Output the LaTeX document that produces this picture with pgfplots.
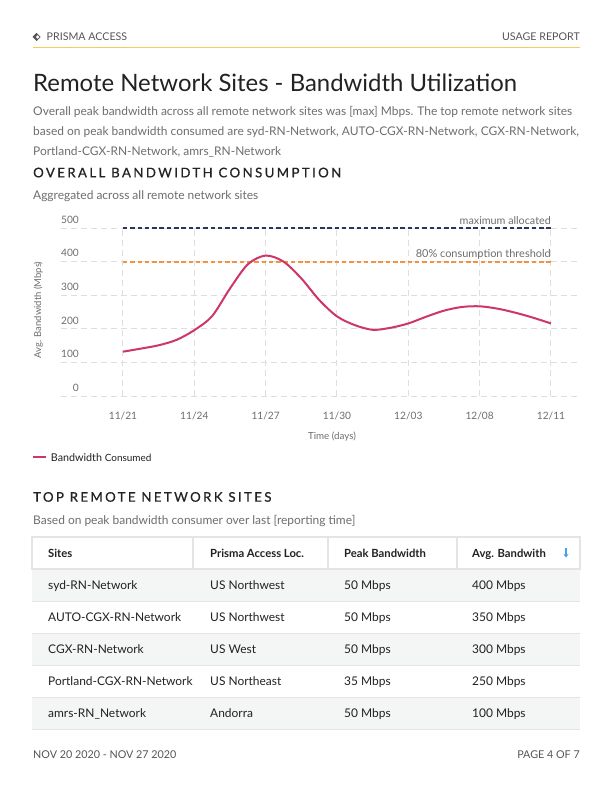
\documentclass[border=0pt]{standalone}
\usepackage{fontspec}
\setmainfont{Lato}
\newfontfamily\spacedfont[LetterSpace=18, FakeBold=0.6]{Lato}
\usepackage{pgfplots}
\pgfplotsset{compat=1.18}
\usetikzlibrary{arrows.meta}
\definecolor{pinkc}{HTML}{CD3767}
\definecolor{orangec}{HTML}{F5923E}
\definecolor{navyc}{HTML}{2D3459}
\definecolor{gridc}{HTML}{DEDEDE}
\definecolor{txtdark}{HTML}{222222}
\definecolor{txtmid}{HTML}{555555}
\definecolor{txtgray}{HTML}{6E6E6E}
\definecolor{rowgray}{HTML}{F4F5F5}
\definecolor{bordc}{HTML}{E4E4E4}
\definecolor{yellowc}{HTML}{F2CC5C}
\definecolor{bluec}{HTML}{4A9FE8}
\newcommand{\fs}[1]{\fontsize{#1}{#1}\selectfont}

\pgfplotstableread{
x y
0 132
0.25 141
0.5 151
0.75 167
1 196
1.25 238
1.5 320
1.75 392
2 418
2.25 400
2.5 350
2.75 286
3 237
3.25 211
3.5 197
3.75 203
4 216
4.25 236
4.5 254
4.75 265
5 267
5.25 260
5.5 248
5.75 233
6 216
}\bwdata

\begin{document}
\begin{tikzpicture}
\begin{scope}[x=1bp,y=-1bp]
\fill[white] (0,0) rectangle (612,792);
% header
\fill[txtmid] (36.5,33) -- (40.5,37) -- (36.5,41) -- (32.5,37) -- cycle;
\fill[white] (37.6,35.2) -- (39.4,37) -- (37.6,38.8) -- (35.8,37) -- cycle;
\node[anchor=base west, inner sep=0pt, text=txtmid] at (46.5,40.7) {\fs{10.7}PRISMA ACCESS};
\node[anchor=base east, inner sep=0pt, text=txtmid] at (580,40.7) {\fs{10.7}USAGE REPORT};
\draw[yellowc, line width=1bp] (33,47.3) -- (580,47.3);
% title
\node[anchor=base west, inner sep=0pt, text=txtdark] at (33,91.7) {\fs{24}Remote Network Sites - Bandwidth Utilization};
\node[anchor=base west, inner sep=0pt, text=txtgray] at (33,115) {\fs{12}Overall peak bandwidth across all remote network sites was [max] Mbps. The top remote network sites};
\node[anchor=base west, inner sep=0pt, text=txtgray] at (33,135) {\fs{12}based on peak bandwidth consumed are syd-RN-Network, AUTO-CGX-RN-Network, CGX-RN-Network,};
\node[anchor=base west, inner sep=0pt, text=txtgray] at (33,155) {\fs{12}Portland-CGX-RN-Network, amrs\_RN-Network};
% section 1
\node[anchor=base west, inner sep=0pt, text=txtdark] at (33,177.3) {\spacedfont\fs{13.3}OVERALL BANDWIDTH CONSUMPTION};
\node[anchor=base west, inner sep=0pt, text=txtgray] at (33,199) {\fs{12}Aggregated across all remote network sites};
% axis labels
\node[anchor=base, rotate=90, inner sep=0pt, text=txtgray] at (41,310) {\fs{9.5}Avg. Bandwidth (Mbps)};
\node[anchor=base, inner sep=0pt, text=txtgray] at (332,439) {\fs{9.8}Time (days)};
% legend
\draw[pinkc, line width=2bp] (33,457.3) -- (45.5,457.3);
\node[anchor=base west, inner sep=0pt, text=txtdark] at (50.7,461.5) {\fs{10.8}Bandwidth \fs{10}Consumed};
% section 2
\node[anchor=base west, inner sep=0pt, text=txtdark] at (33,501.7) {\spacedfont\fs{13.3}TOP REMOTE NETWORK SITES};
\node[anchor=base west, inner sep=0pt, text=txtgray] at (33,524) {\fs{12}Based on peak bandwidth consumer over last [reporting time]};
% table
\fill[rowgray] (32,569) rectangle (580,601);
\fill[rowgray] (32,633) rectangle (580,665);
\fill[rowgray] (32,697) rectangle (580,729);
\foreach \yy in {601,633,665,697,729} {\draw[bordc, line width=0.6bp] (32,\yy) -- (580,\yy);}
\draw[bordc, line width=1.5bp] (32,537) rectangle (580,569);
\foreach \xx in {193,328,457} {\draw[bordc, line width=1.5bp] (\xx,537) -- (\xx,569);}
\node[anchor=base west, inner sep=0pt, text=txtdark] at (48,557) {\fs{11.3}\bfseries Sites};
\node[anchor=base west, inner sep=0pt, text=txtdark] at (210,557) {\fs{11.3}\bfseries Prisma Access Loc.};
\node[anchor=base west, inner sep=0pt, text=txtdark] at (344,557) {\fs{11.3}\bfseries Peak Bandwidth};
\node[anchor=base west, inner sep=0pt, text=txtdark] at (472,557) {\fs{11.3}\bfseries Avg. Bandwith};
\draw[bluec, line width=1.2bp, -{Stealth[length=3.5bp,width=5bp]}] (566,548) -- (566,557.5);
\foreach \yb/\a/\b/\c/\d in {589/syd-RN-Network/US Northwest/50 Mbps/400 Mbps,
  621/AUTO-CGX-RN-Network/US Northwest/50 Mbps/350 Mbps,
  653/CGX-RN-Network/US West/50 Mbps/300 Mbps,
  685/Portland-CGX-RN-Network/US Northeast/35 Mbps/250 Mbps,
  717/amrs-RN\_Network/Andorra/50 Mbps/100 Mbps} {
  \node[anchor=base west, inner sep=0pt, text=txtdark] at (48,\yb) {\fs{12}\a};
  \node[anchor=base west, inner sep=0pt, text=txtdark] at (210,\yb) {\fs{12}\b};
  \node[anchor=base west, inner sep=0pt, text=txtdark] at (344,\yb) {\fs{12}\c};
  \node[anchor=base west, inner sep=0pt, text=txtdark] at (472,\yb) {\fs{12}\d};
}
% footer
\node[anchor=base west, inner sep=0pt, text=txtmid] at (33,758.3) {\fs{10.8}NOV 20 2020 - NOV 27 2020};
\node[anchor=base east, inner sep=0pt, text=txtmid] at (580,758.3) {\fs{10.8}PAGE 4 OF 7};
\end{scope}

\begin{axis}[
  at={(61bp,-396bp)}, anchor=south west,
  scale only axis, width=517bp, height=168bp,
  xmin=-0.869, xmax=6.379, ymin=0, ymax=500,
  clip=false,
  axis line style={draw=none},
  major tick length=0pt,
  xtick={0,1,2,3,4,5,6},
  xticklabels={11/21,11/24,11/27,11/30,12/03,12/08,12/11},
  ytick={0,100,200,300,400,500},
  grid=major,
  major grid style={draw=gridc, dash pattern=on 6bp off 4bp, line width=1bp},
  /pgf/number format/assume math mode=true,
  yticklabel style={anchor=base east, inner sep=0pt, xshift=18bp, yshift=4.7bp, font=\fs{10.2}, text=txtgray},
  xticklabel style={anchor=base, inner sep=0pt, yshift=-23bp, font=\fs{10.2}, text=txtgray},
]
\addplot[navyc, line width=1.8bp, dash pattern=on 4.5bp off 2.8bp, forget plot] coordinates {(0,500) (6,500)};
\addplot[orangec, line width=1.8bp, dash pattern=on 4.5bp off 2.8bp, forget plot] coordinates {(0,400) (6,400)};
\addplot[pinkc, line width=2bp, smooth, tension=0.5] table[x=x,y=y] {\bwdata};
\node[anchor=base east, inner sep=0pt, text=txtgray, font=\fs{10.8}] at (axis cs:6,500) [yshift=3.5bp] {maximum allocated};
\node[anchor=base east, inner sep=0pt, text=txtgray, font=\fs{11}] at (axis cs:6,400) [yshift=3.7bp] {80\% consumption threshold};
\end{axis}
\end{tikzpicture}
\end{document}
